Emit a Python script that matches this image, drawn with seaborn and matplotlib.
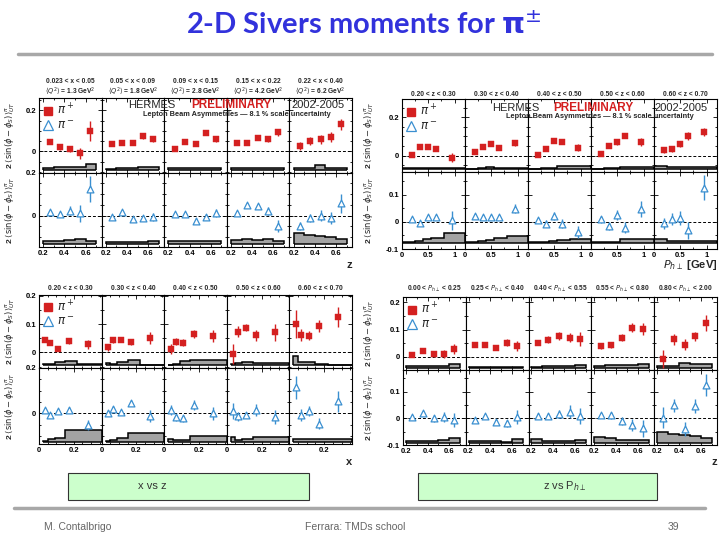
import numpy as np
import pandas as pd
import matplotlib
matplotlib.use("Agg")
import matplotlib.pyplot as plt
from matplotlib.lines import Line2D
from matplotlib.ticker import MultipleLocator, FuncFormatter
import seaborn as sns

# ---------------- data ----------------
# grid A: z dependence in x bins
a_x = [0.26, 0.355, 0.455, 0.55, 0.645]
a_edges = [0.2, 0.3, 0.4, 0.5, 0.6, 0.7]
a_head1 = ["0.023 < x < 0.05", "0.05 < x < 0.09", "0.09 < x < 0.15",
           "0.15 < x < 0.22", "0.22 < x < 0.40"]
a_head2 = [r"$\langle Q^2\rangle$ = 1.3 GeV$^2$", r"$\langle Q^2\rangle$ = 1.8 GeV$^2$",
           r"$\langle Q^2\rangle$ = 2.8 GeV$^2$", r"$\langle Q^2\rangle$ = 4.2 GeV$^2$",
           r"$\langle Q^2\rangle$ = 6.2 GeV$^2$"]
a_pip = [[0.047, 0.019, 0.011, -0.010, 0.100],
         [0.035, 0.042, 0.039, 0.074, 0.060],
         [0.011, 0.047, 0.035, 0.090, 0.058],
         [0.040, 0.039, 0.066, 0.061, 0.092],
         [0.026, 0.052, 0.058, 0.071, 0.131]]
a_pip_err = [[0.005, 0.012, 0.015, 0.025, 0.050],
             [0.006, 0.008, 0.010, 0.013, 0.015],
             [0.006, 0.008, 0.008, 0.010, 0.014],
             [0.008, 0.008, 0.012, 0.015, 0.018],
             [0.020, 0.020, 0.020, 0.025, 0.025]]
a_pim = [[0.019, 0.008, 0.023, 0.011, 0.122],
         [-0.006, 0.019, -0.016, -0.009, -0.005],
         [0.008, 0.008, -0.023, -0.006, 0.011],
         [0.014, 0.050, 0.043, 0.023, -0.047],
         [-0.048, -0.011, 0.000, -0.012, 0.057]]
a_pim_err = [[0.008, 0.010, 0.020, 0.040, 0.060],
             [0.006, 0.008, 0.010, 0.013, 0.018],
             [0.006, 0.008, 0.010, 0.013, 0.018],
             [0.008, 0.010, 0.012, 0.018, 0.028],
             [0.018, 0.020, 0.025, 0.028, 0.045]]
a_sys_pip = [[0.011, 0.016, 0.016, 0.016, 0.032],
             [0.008, 0.010, 0.012, 0.014, 0.014],
             [0.010, 0.013, 0.013, 0.013, 0.011],
             [0.013, 0.013, 0.013, 0.013, 0.010],
             [0.010, 0.010, 0.025, 0.010, 0.010]]
a_sys_pim = [[0.011, 0.011, 0.016, 0.022, 0.011],
             [0.008, 0.008, 0.008, 0.008, 0.014],
             [0.010, 0.010, 0.012, 0.010, 0.012],
             [0.016, 0.020, 0.016, 0.022, 0.014],
             [0.050, 0.040, 0.034, 0.031, 0.019]]

# grid B: P_h dependence in z bins
b_x = [0.19, 0.34, 0.49, 0.65, 0.96]
b_edges = [0.0, 0.25, 0.4, 0.55, 0.8, 1.2]
b_head = ["0.20 < z < 0.30", "0.30 < z < 0.40", "0.40 < z < 0.50",
          "0.50 < z < 0.60", "0.60 < z < 0.70"]
b_pip = [[0.003, 0.043, 0.047, 0.036, -0.010],
         [0.019, 0.045, 0.060, 0.038, 0.064],
         [0.005, 0.033, 0.074, 0.071, 0.041],
         [0.009, 0.050, 0.071, 0.105, 0.072],
         [0.031, 0.034, 0.060, 0.102, 0.122]]
b_pip_err = [[0.005, 0.006, 0.006, 0.008, 0.025],
             [0.006, 0.006, 0.008, 0.008, 0.015],
             [0.007, 0.008, 0.010, 0.012, 0.018],
             [0.008, 0.010, 0.013, 0.015, 0.020],
             [0.015, 0.015, 0.017, 0.020, 0.022]]
b_pim = [[0.011, -0.004, 0.018, 0.018, 0.006],
         [0.023, 0.018, 0.018, 0.018, 0.048],
         [0.005, -0.007, 0.021, -0.007, -0.037],
         [0.009, -0.016, 0.024, -0.022, 0.048],
         [-0.006, 0.012, 0.015, -0.032, 0.126]]
b_pim_err = [[0.006, 0.006, 0.008, 0.008, 0.035],
             [0.006, 0.006, 0.008, 0.008, 0.017],
             [0.010, 0.012, 0.014, 0.016, 0.022],
             [0.012, 0.014, 0.018, 0.020, 0.030],
             [0.020, 0.022, 0.025, 0.030, 0.045]]
b_sys_pip = [[0.005, 0.005, 0.005, 0.008, 0.008],
             [0.004, 0.006, 0.012, 0.008, 0.008],
             [0.004, 0.006, 0.008, 0.015, 0.015],
             [0.004, 0.005, 0.006, 0.010, 0.010],
             [0.016, 0.010, 0.010, 0.010, 0.010]]
b_sys_pim = [[0.002, 0.006, 0.012, 0.018, 0.034],
             [0.004, 0.006, 0.010, 0.018, 0.024],
             [0.004, 0.004, 0.006, 0.010, 0.014],
             [0.002, 0.004, 0.004, 0.012, 0.012],
             [0.012, 0.007, 0.005, 0.007, 0.007]]

# grid C: x dependence in z bins
c_x = [0.037, 0.065, 0.11, 0.17, 0.28]
c_edges = [0.023, 0.05, 0.09, 0.15, 0.22, 0.36]
c_head = b_head
c_pip = [[0.044, 0.033, 0.013, 0.039, 0.029],
         [0.018, 0.044, 0.045, 0.036, 0.051],
         [0.012, 0.038, 0.034, 0.065, 0.059],
         [-0.006, 0.073, 0.088, 0.061, 0.071],
         [0.100, 0.061, 0.059, 0.094, 0.126]]
c_pip_err = [[0.006, 0.006, 0.008, 0.010, 0.016],
             [0.012, 0.010, 0.008, 0.010, 0.020],
             [0.018, 0.012, 0.012, 0.015, 0.022],
             [0.035, 0.020, 0.012, 0.020, 0.030],
             [0.050, 0.022, 0.016, 0.022, 0.035]]
c_pim = [[0.016, -0.009, 0.010, 0.015, -0.053],
         [0.003, 0.021, 0.007, 0.046, -0.012],
         [0.016, -0.018, -0.022, 0.038, 0.000],
         [0.010, -0.013, -0.007, 0.015, -0.016],
         [0.115, -0.007, 0.009, -0.046, 0.053]]
c_pim_err = [[0.008, 0.008, 0.008, 0.012, 0.022],
             [0.010, 0.010, 0.010, 0.012, 0.025],
             [0.022, 0.015, 0.015, 0.022, 0.030],
             [0.035, 0.020, 0.015, 0.025, 0.030],
             [0.050, 0.025, 0.022, 0.025, 0.045]]
c_sys_pip = [[0.004, 0.006, 0.012, 0.015, 0.004],
             [0.009, 0.005, 0.011, 0.019, 0.003],
             [0.003, 0.005, 0.014, 0.021, 0.021],
             [0.005, 0.009, 0.012, 0.008, 0.008],
             [0.033, 0.012, 0.012, 0.006, 0.003]]
c_sys_pim = [[0.004, 0.009, 0.015, 0.051, 0.051],
             [0.004, 0.008, 0.016, 0.036, 0.036],
             [0.012, 0.005, 0.005, 0.026, 0.026],
             [0.020, 0.007, 0.009, 0.020, 0.020],
             [0.012, 0.012, 0.012, 0.012, 0.012]]

# grid D: z dependence in P_h bins
d_x = [0.26, 0.355, 0.455, 0.55, 0.645]
d_edges = [0.2, 0.3, 0.4, 0.5, 0.6, 0.7]
d_head = [r"0.00 < $P_{h\perp}$ < 0.25", r"0.25 < $P_{h\perp}$ < 0.40",
          r"0.40 < $P_{h\perp}$ < 0.55", r"0.55 < $P_{h\perp}$ < 0.80",
          r"0.80 < $P_{h\perp}$ < 2.00"]
d_pip = [[0.007, 0.022, 0.009, 0.012, 0.029],
         [0.044, 0.045, 0.034, 0.052, 0.040],
         [0.050, 0.063, 0.076, 0.071, 0.066],
         [0.039, 0.043, 0.071, 0.108, 0.103],
         [-0.007, 0.064, 0.044, 0.075, 0.124]]
d_pip_err = [[0.005, 0.007, 0.010, 0.015, 0.020],
             [0.007, 0.009, 0.010, 0.013, 0.018],
             [0.008, 0.012, 0.014, 0.018, 0.025],
             [0.009, 0.011, 0.014, 0.018, 0.022],
             [0.032, 0.022, 0.020, 0.018, 0.030]]
d_pim = [[0.006, 0.019, 0.000, 0.004, -0.006],
         [-0.006, 0.010, -0.012, -0.019, 0.006],
         [0.010, 0.009, 0.015, 0.025, 0.009],
         [0.011, 0.011, -0.009, -0.025, -0.037],
         [0.002, 0.048, -0.040, 0.046, 0.125]]
d_pim_err = [[0.008, 0.009, 0.012, 0.018, 0.025],
             [0.006, 0.008, 0.010, 0.014, 0.026],
             [0.010, 0.012, 0.015, 0.025, 0.030],
             [0.010, 0.012, 0.015, 0.022, 0.032],
             [0.040, 0.025, 0.025, 0.025, 0.040]]
d_sys_pip = [[0.004, 0.006, 0.004, 0.007, 0.012],
             [0.003, 0.003, 0.003, 0.003, 0.003],
             [0.003, 0.005, 0.006, 0.006, 0.009],
             [0.004, 0.011, 0.009, 0.009, 0.012],
             [0.006, 0.006, 0.018, 0.012, 0.012]]
d_sys_pim = [[0.010, 0.010, 0.010, 0.013, 0.022],
             [0.010, 0.008, 0.010, 0.006, 0.015],
             [0.015, 0.010, 0.010, 0.010, 0.012],
             [0.025, 0.020, 0.012, 0.012, 0.012],
             [0.044, 0.035, 0.030, 0.028, 0.022]]

# ---------------- style ----------------
sns.set_theme(style="ticks")
plt.rcParams["font.family"] = ["Liberation Sans", "DejaVu Sans"]
plt.rcParams["mathtext.fontset"] = "dejavusans"

RED = "#d42020"
BLUE = "#3a8fd0"
GRAY = "#a3a3a3"

fig = plt.figure(figsize=(7.2, 5.4), dpi=100)
fig.patch.set_facecolor("white")


def fx(px):
    return px / 720.0


def fy(py):
    return 1.0 - py / 540.0


def fmt_tick(v, pos):
    if abs(v) < 1e-9:
        return "0"
    return f"{v:g}"


def panel(rect, xs, edges, vals, errs, sys_h, base, xlim, ylim, neg):
    ax = fig.add_axes(rect)
    top = np.array(sys_h) + base
    ax.stairs(top, edges, baseline=base, fill=True, color=GRAY, lw=0)
    ax.stairs(top, edges, baseline=base, color="black", lw=1.1)
    ax.hlines(base, edges[0], edges[-1], color="black", lw=1.1)
    ax.axhline(0, color="black", lw=0.7, ls=(0, (3, 2)))
    col = BLUE if neg else RED
    ax.errorbar(xs, vals, yerr=errs, fmt="none", ecolor=col, elinewidth=1.0, capsize=0)
    df = pd.DataFrame({"x": xs, "y": vals})
    if neg:
        sns.scatterplot(data=df, x="x", y="y", ax=ax, marker="^", s=24,
                        facecolor="white", edgecolor=BLUE, linewidth=0.9,
                        zorder=4, legend=False)
    else:
        sns.scatterplot(data=df, x="x", y="y", ax=ax, marker="s", s=20,
                        color=RED, edgecolor=RED, linewidth=0.3,
                        zorder=4, legend=False)
    ax.set_xlim(xlim)
    ax.set_ylim(ylim)
    ax.set_xlabel("")
    ax.set_ylabel("")
    for s in ax.spines.values():
        s.set_linewidth(0.8)
        s.set_color("black")
    ax.tick_params(which="both", direction="in", top=True, right=True,
                   width=0.6, labelsize=5.5, pad=2, colors="black")
    ax.tick_params(which="major", length=3)
    ax.tick_params(which="minor", length=1.6)
    ax.yaxis.set_major_formatter(FuncFormatter(fmt_tick))
    ax.xaxis.set_major_formatter(FuncFormatter(fmt_tick))
    return ax


def grid(g, xs, edges, pip, pip_err, pim, pim_err, sys_pip, sys_pim):
    w = (g["right"] - g["left"]) / 5.0
    rows = [(g["top"], g["mid"], pip, pip_err, sys_pip, g["base_top"], g["ylim_top"], g["yt_top"], False),
            (g["mid"], g["bottom"], pim, pim_err, sys_pim, g["base_bot"], g["ylim_bot"], g["yt_bot"], True)]
    for r, (t, b, vals, errs, sysh, base, ylim, yt, neg) in enumerate(rows):
        for i in range(5):
            rect = [fx(g["left"] + i * w), fy(b), fx(w), (b - t) / 540.0]
            ax = panel(rect, xs, edges, vals[i], errs[i], sysh[i], base,
                       g["xlim"], ylim, neg)
            ax.set_xticks(g["xticks"])
            ax.xaxis.set_minor_locator(MultipleLocator(g["xminor"]))
            ax.set_yticks(yt)
            ax.yaxis.set_minor_locator(MultipleLocator(0.05))
            ax.set_ylim(ylim)
            ax.set_xlim(g["xlim"])
            if i > 0:
                ax.set_yticklabels([])
            if r == 0:
                ax.set_xticklabels([])
            for lab in ax.get_xticklabels() + ax.get_yticklabels():
                lab.set_fontweight("bold")
            if r == 0 and i == 0:
                h = [Line2D([], [], marker="s", ls="none", color=RED, ms=6),
                     Line2D([], [], marker="^", ls="none", mfc="white", mec=BLUE, mew=0.9, ms=6.5)]
                ax.legend(h, [r"$\pi^+$", r"$\pi^-$"], loc="upper left", frameon=False,
                          fontsize=8.5, handlelength=0.8, handletextpad=0.3,
                          labelspacing=0.15, borderaxespad=0.2, borderpad=0.2)
        fig.text(fx(g["ylab_x"]), fy((t + b) / 2.0),
                 r"2 $\langle\sin(\phi-\phi_S)\rangle^{\pi}_{UT}$",
                 rotation=90, ha="center", va="center", fontsize=6, fontweight="bold")
    for i in range(5):
        cx = fx(g["left"] + (i + 0.5) * w)
        for txt, yy in zip(g["heads"][i], g["head_y"]):
            fig.text(cx, fy(yy), txt, ha="center", va="center", fontsize=4.8, fontweight="bold")
    fig.text(fx(g["xlab"][0]), fy(g["xlab"][1]), g["xlab"][2], ha="right", va="center",
             fontsize=8, fontweight="bold")


A = dict(left=39, right=352, top=98, mid=172.5, bottom=247, xlim=(0.16, 0.75),
         xticks=[0.2, 0.4, 0.6], xminor=0.1, ylim_top=(-0.103, 0.26), ylim_bot=(-0.145, 0.2),
         yt_top=[0, 0.2], yt_bot=[0, 0.2], base_top=-0.092, base_bot=-0.129,
         ylab_x=10, heads=list(zip(a_head1, a_head2)), head_y=[81.5, 91.5],
         xlab=(352, 265, "z"))
B = dict(left=402, right=717, top=99, mid=172, bottom=249, xlim=(0, 1.2),
         xticks=[0, 0.5, 1], xminor=0.25, ylim_top=(-0.085, 0.295), ylim_bot=(-0.1, 0.183),
         yt_top=[0, 0.2], yt_bot=[-0.1, 0, 0.1], base_top=-0.071, base_bot=-0.077,
         ylab_x=369, heads=[[h] for h in b_head], head_y=[94],
         xlab=(717, 265, r"$P_{h\perp}$ [GeV]"))
C = dict(left=39, right=352, top=294.5, mid=368, bottom=444, xlim=(0, 0.36),
         xticks=[0, 0.2], xminor=0.05, ylim_top=(-0.055, 0.205), ylim_bot=(-0.135, 0.2),
         yt_top=[0, 0.1, 0.2], yt_bot=[0, 0.2], base_top=-0.046, base_bot=-0.124,
         ylab_x=10, heads=[[h] for h in c_head], head_y=[289],
         xlab=(352, 462, "x"))
D = dict(left=403, right=717, top=297, mid=370, bottom=445, xlim=(0.175, 0.75),
         xticks=[0.2, 0.4, 0.6], xminor=0.1, ylim_top=(-0.048, 0.22), ylim_bot=(-0.1, 0.181),
         yt_top=[0, 0.1, 0.2], yt_bot=[-0.1, 0, 0.1], base_top=-0.039, base_bot=-0.094,
         ylab_x=369, heads=[[h] for h in d_head], head_y=[289],
         xlab=(717, 462, "z"))

grid(A, a_x, a_edges, a_pip, a_pip_err, a_pim, a_pim_err, a_sys_pip, a_sys_pim)
grid(B, b_x, b_edges, b_pip, b_pip_err, b_pim, b_pim_err, b_sys_pip, b_sys_pim)
grid(C, c_x, c_edges, c_pip, c_pip_err, c_pim, c_pim_err, c_sys_pip, c_sys_pim)
grid(D, d_x, d_edges, d_pip, d_pip_err, d_pim, d_pim_err, d_sys_pip, d_sys_pim)

# HERMES preliminary banners
for x0, x1, xc, y0 in [(128, 345, 231, 105), (492, 708, 593, 108)]:
    fig.text(fx(x0), fy(y0), "HERMES", ha="left", va="center", fontsize=8)
    fig.text(fx(xc), fy(y0), "PRELIMINARY", ha="center", va="center", fontsize=8.5,
             color=RED, fontweight="bold")
    fig.text(fx(x1), fy(y0), "2002-2005", ha="right", va="center", fontsize=8)
    fig.text(fx((x0 + x1) / 2.0), fy(y0 + 9), "Lepton Beam Asymmetries \u2014 8.1 % scale uncertainty",
             ha="center", va="center", fontsize=5.3, fontweight="bold")

# slide decorations
fig.text(fx(364), fy(25), r"2-D Sivers moments for $\mathbf{\pi}^{\pm}$", ha="center", va="center",
         fontsize=21, fontweight="bold", color="#3232dc", family=["Lato", "DejaVu Sans"])
fig.add_artist(Line2D([fx(18), fx(712)], [fy(54), fy(54)], color="#a8a8a8", lw=2.5))
fig.add_artist(Line2D([fx(14), fx(705)], [fy(508), fy(508)], color="#a8a8a8", lw=2.5))

for bx0, bx1, tx, txt in [(68, 309, 152, "x vs z"), (418, 657, 565, r"z vs P$_{h\perp}$")]:
    fig.add_artist(plt.Rectangle((fx(bx0), fy(500)), fx(bx1 - bx0), 27 / 540.0,
                                 facecolor="#ccffcc", edgecolor="#333333", lw=0.8))
    fig.text(fx(tx), fy(486), txt, ha="center", va="center", fontsize=8, color="#333333")

fig.text(fx(44), fy(527), "M. Contalbrigo", ha="left", va="center", fontsize=7.5, color="#666666")
fig.text(fx(355), fy(527), "Ferrara: TMDs school", ha="center", va="center", fontsize=7.5, color="#666666")
fig.text(fx(673), fy(527), "39", ha="center", va="center", fontsize=7.5, color="#666666")

fig.savefig("out.png", dpi=100, facecolor="white")
